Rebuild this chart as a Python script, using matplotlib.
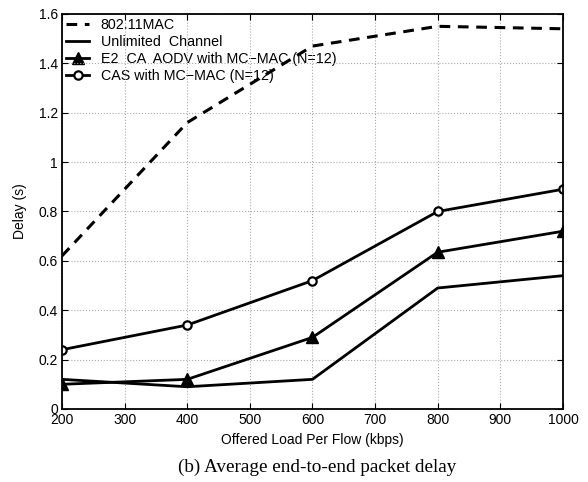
import numpy as np
import matplotlib
matplotlib.use("Agg")
import matplotlib.pyplot as plt

# === Daten ===
load = [200, 400, 600, 800, 1000]
mac80211 = [0.62, 1.16, 1.47, 1.55, 1.54]
unlimited = [0.12, 0.09, 0.12, 0.49, 0.54]
e2_ca_aodv = [0.10, 0.12, 0.29, 0.635, 0.72]
cas = [0.24, 0.34, 0.52, 0.80, 0.89]

xticks = [200, 300, 400, 500, 600, 700, 800, 900, 1000]
yticks = [0, 0.2, 0.4, 0.6, 0.8, 1, 1.2, 1.4, 1.6]
yticklabels = ["0", "0.2", "0.4", "0.6", "0.8", "1", "1.2", "1.4", "1.6"]

plt.rcParams["font.family"] = ["Liberation Sans", "DejaVu Sans"]

fig = plt.figure(figsize=(5.88, 4.82), dpi=100)
ax = fig.add_axes([0.1054, 0.1515, 0.852, 0.8195])

ax.plot(load, mac80211, "k--", lw=2.2, dashes=(3.5, 2.5), label="802.11MAC")
ax.plot(load, unlimited, "k-", lw=2, label="Unlimited  Channel")
ax.plot(load, e2_ca_aodv, "k-", lw=2, marker="^", ms=8, mfc="k",
        label="E2  CA  AODV with MC\u2212MAC (N=12)")
ax.plot(load, cas, "k-", lw=2, marker="o", ms=6, mfc="white", mew=1.6,
        label="CAS with MC\u2212MAC (N=12)")

ax.set_xlim(200, 1000)
ax.set_ylim(0, 1.6)
ax.set_xticks(xticks)
ax.set_yticks(yticks)
ax.set_yticklabels(yticklabels)
ax.tick_params(direction="in", labelsize=10, length=4, pad=3, top=True, right=True)
ax.grid(True, linestyle=":", color="#aaaaaa", linewidth=0.8)
for s in ax.spines.values():
    s.set_linewidth(1.3)

ax.set_xlabel("Offered Load Per Flow (kbps)", fontsize=10, labelpad=4)
ax.set_ylabel("Delay (s)", fontsize=10, labelpad=8)

leg = ax.legend(loc="upper left", frameon=False, fontsize=10.3, handlelength=1.6,
                borderaxespad=0.15, borderpad=0.15, labelspacing=0.2,
                handletextpad=0.8)
leg.set_zorder(1)

fig.text(0.54, 0.031, "(b) Average end-to-end packet delay", ha="center", va="center",
         fontsize=13.8, family=["Liberation Serif", "DejaVu Serif"])

fig.savefig("out.png", dpi=100)
